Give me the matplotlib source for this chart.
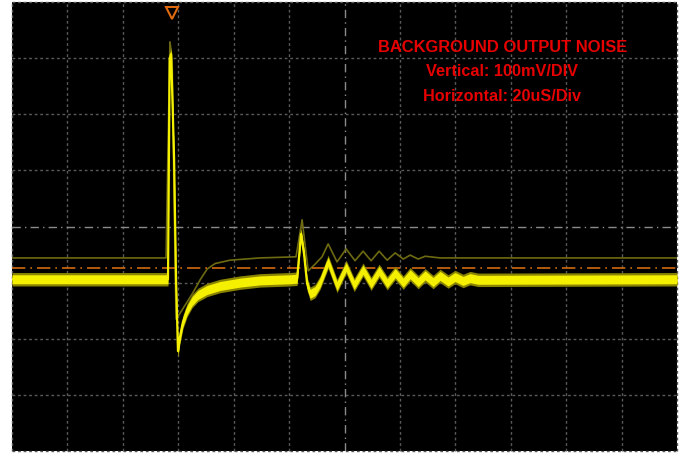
import matplotlib
matplotlib.use("Agg")
import matplotlib.pyplot as plt
import matplotlib.transforms as mtransforms
import numpy as np

# time in us (20 us/div), level in mV (100 mV/div)
main_t = [0, 56.3, 56.9, 57.4, 57.9, 58.5, 59.2, 59.9, 60.6, 61.7, 63.2, 65.0, 67.1,
          70.4, 75.1, 82.3, 89.5, 100.4, 102.9, 104.3, 105.4, 106.5, 107.6, 109.4,
          111.2, 114.1, 117.3, 120.6, 123.5, 126.7, 129.6, 132.5, 135.4, 138.3,
          141.2, 143.7, 146.6, 149.1, 152.0, 154.5, 157.4, 159.9, 162.8, 165.3,
          168.2, 240]
main_v = [-94, -94, 299, 307, 227, 120, -94, -222, -197, -170, -149, -133, -122,
          -113, -106, -100, -96, -94, -93, -13, -49, -102, -120, -115,
          -100, -63, -106, -72, -104, -77, -102, -79, -101, -83,
          -100, -85, -99, -87, -99, -88, -98, -90, -97, -92,
          -95, -94]

ghost_t = [0, 55.6, 56.3, 57.0, 57.8, 58.5, 59.2, 60.6, 62.5, 65.3, 67.9, 70.4,
           73.3, 78.7, 89.5, 102.5, 104.7, 106.9, 109.4, 111.9, 114.1, 117.3,
           120.6, 123.8, 126.7, 129.6, 132.5, 135.4, 138.3, 141.2, 143.7, 146.6,
           149.1, 154.5, 240]
ghost_v = [-56, -56, 138, 329, 299, 49, -165, -155, -140, -118, -95, -76,
           -66, -60, -56, -54, 12, -79, -67, -54, -31, -63,
           -40, -61, -44, -61, -44, -60, -47, -58, -51, -58,
           -53, -56, -56]

trigger_t = 57.6
trigger_level = -74

main_t = np.array(main_t)
main_v = np.array(main_v)

fig = plt.figure(figsize=(6.85, 4.56), dpi=100)
ax = fig.add_axes([12 / 685, 4 / 456, 665 / 685, 449 / 456])
ax.set_facecolor("black")
ax.set_xlim(0, 240)
ax.set_ylim(-400, 400)
for s in ax.spines.values():
    s.set_visible(False)
ax.set_xticks([])
ax.set_yticks([])

# graticule
for t in range(0, 241, 20):
    if t == 120:
        continue
    ax.axvline(t, color="#5a5a5a", lw=1, ls=(0, (2, 2)), clip_on=False, zorder=1)
for v in range(-400, 401, 100):
    if v == 0:
        continue
    ax.axhline(v, color="#5a5a5a", lw=1, ls=(0, (2, 2)), clip_on=False, zorder=1)
ax.axvline(120, color="#8a8a8a", lw=1, ls=(0, (6, 3, 1, 3)), zorder=1)
ax.axhline(0, color="#8a8a8a", lw=1, ls=(0, (6, 3, 1, 3)), zorder=1)

# persistence (max) trace
ax.plot(ghost_t, ghost_v, color="#6e6a12", lw=1.2, zorder=2)

# trigger level
ax.axhline(trigger_level, color="#d06a10", lw=1.2, ls=(0, (8, 3, 1, 3)), zorder=3)

# main noisy trace
ax.fill_between(main_t, main_v - 12, main_v + 12, color="#8a8400", lw=0, zorder=4)
ax.fill_between(main_t, main_v - 8, main_v + 8, color="#f4f000", lw=0, zorder=5)
ax.plot(main_t, main_v, color="#f4f000", lw=1.6, zorder=5)

# trigger marker
trans = mtransforms.blended_transform_factory(ax.transData, ax.transAxes)
ax.plot([trigger_t], [0.976], marker="v", markersize=9, markerfacecolor="none",
        markeredgecolor="#e06a10", mew=1.5, transform=trans, clip_on=False, zorder=6)

font = ["Liberation Sans", "DejaVu Sans"]
ax.text(177, 312, "BACKGROUND OUTPUT NOISE", color="#e60000", fontsize=11.9,
        fontweight="bold", family=font, ha="center", va="baseline", zorder=7)
ax.text(177, 270, "Vertical: 100mV/DIV", color="#e60000", fontsize=11.7,
        fontweight="bold", family=font, ha="center", va="baseline", zorder=7)
ax.text(177, 225, "Horizontal: 20uS/Div", color="#e60000", fontsize=11.7,
        fontweight="bold", family=font, ha="center", va="baseline", zorder=7)

fig.savefig("out.png", dpi=100, facecolor="white")
